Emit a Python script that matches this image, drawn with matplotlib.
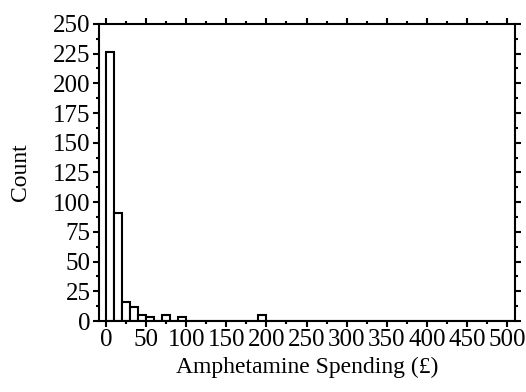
import matplotlib
matplotlib.use('Agg')
import matplotlib.pyplot as plt
import numpy as np

# --- histogram data (bin width 10, counts) ---
bin_edges = np.arange(0, 520, 10)
counts = [226, 91, 16, 12, 5, 3, 0, 5, 0, 3,
          0, 0, 0, 0, 0, 0, 0, 0, 0, 5,
          0, 0, 0, 0, 0, 0, 0, 0, 0, 0,
          0, 0, 0, 0, 0, 0, 0, 0, 0, 0,
          0, 0, 0, 0, 0, 0, 0, 0, 0, 0,
          0]
x_ticks = np.arange(0, 550, 50)
y_ticks = np.arange(0, 275, 25)

plt.rcParams['font.family'] = ['Liberation Serif', 'DejaVu Serif']

fig = plt.figure(figsize=(5.26, 3.92), dpi=100)
ax = fig.add_axes([0.188, 0.181, 0.791, 0.758])

ax.bar(bin_edges[:-1], counts, width=10, align='edge',
       facecolor='white', edgecolor='black', linewidth=1.5)

ax.set_xlim(-9, 510)
ax.set_ylim(0, 250)
ax.set_xticks(x_ticks)
ax.set_xticks(x_ticks[:-1] + 25, minor=True)
ax.set_yticks(y_ticks)
ax.set_yticks(y_ticks[:-1] + 12.5, minor=True)

for s in ax.spines.values():
    s.set_linewidth(1.5)

ax.tick_params(which='both', direction='out', top=True, right=True,
               width=1.5, labelsize=18, pad=1.5)
ax.tick_params(which='major', length=4.5)
ax.tick_params(which='minor', length=2.5)

ax.set_xlabel('Amphetamine Spending (£)', fontsize=17, labelpad=4)
ax.set_ylabel('Count', fontsize=17, labelpad=16)

fig.savefig('out.png', dpi=100, facecolor='white')
